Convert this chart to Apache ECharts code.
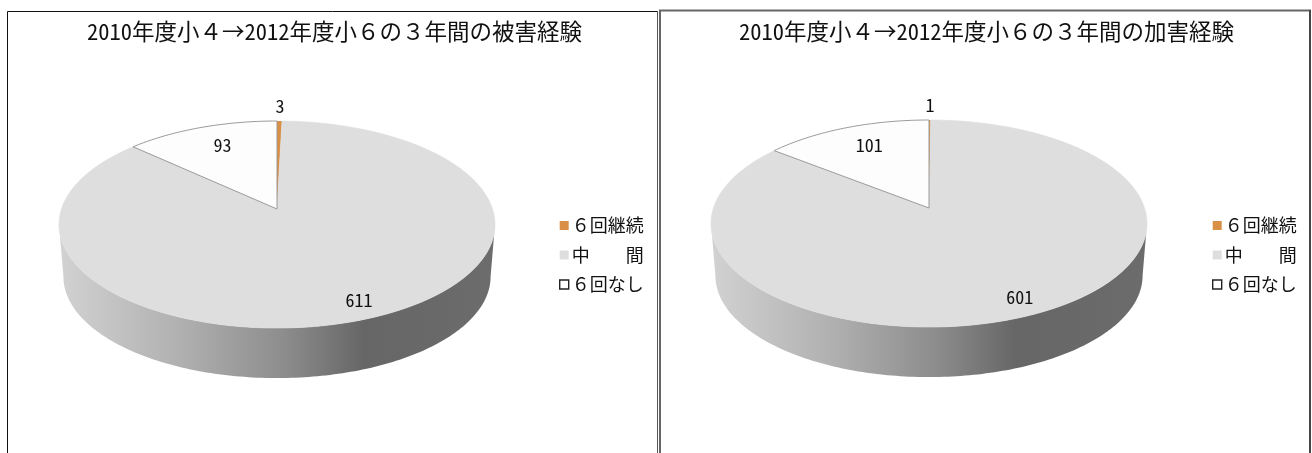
<!DOCTYPE html>
<html><head><meta charset="utf-8">
<style>html,body{margin:0;padding:0;background:#fff}#c{width:1312px;height:453px}</style>
<script src="https://cdn.jsdelivr.net/npm/echarts@6/dist/echarts.min.js"></script>
</head><body><div id="c"></div>
<script>
const categories = ['６回継続', '中　　間', '６回なし'];
const victimValues = [3, 611, 93];
const offenderValues = [1, 601, 101];
const victimTitle = '2010年度小４→2012年度小６の３年間の被害経験';
const offenderTitle = '2010年度小４→2012年度小６の３年間の加害経験';

const colors = ['#d98f45', '#dedede', '#fdfdfd'];
const FONT = '"Noto Sans Mono CJK JP","Noto Sans CJK JP",sans-serif';
const LEG_FONT = '"Noto Sans CJK JP",sans-serif';
const labelRadius = [1.2, 0.86, 0.76];
const labelNudgeX = [0, 0, 5];

// projective view of a tilted disc
const C = 215.5, A = 101.2, K = -0.15, BX = 0.98, BY = 52.4;
const panels = [
  { values: victimValues, cx: 277, cy: 209 },
  { values: offenderValues, cx: 929, cy: 208 }
];
const rad = d => d * Math.PI / 180;
function proj(p, deg, r) {
  const u = r * Math.sin(rad(deg)), v = -r * Math.cos(rad(deg)), d = 1 + K * v;
  return [C * u / d, A * v / d];
}
const FRONT = [Math.acos(K) * 180 / Math.PI, 360 - Math.acos(K) * 180 / Math.PI];
const wallFill = { type: 'linear', x: 0, y: 0, x2: 1, y2: 0, colorStops: [
  { offset: 0, color: '#d2d2d2' }, { offset: 0.28, color: '#b0b0b0' },
  { offset: 0.52, color: '#8c8c8c' }, { offset: 0.7, color: '#666666' },
  { offset: 1, color: '#6c6c6c' } ] };

function renderSlice(pIdx, cIdx) {
  const p = panels[pIdx];
  return function (params, api) {
    const val = api.value(0);
    const total = p.values.reduce((a, b) => a + b, 0);
    const before = p.values.slice(0, cIdx).reduce((a, b) => a + b, 0);
    const a0 = before / total * 360, a1 = (before + val) / total * 360;
    const children = [];
    // side wall for the part of this slice on the front of the disc
    const f0 = Math.max(a0, FRONT[0]), f1 = Math.min(a1, FRONT[1]);
    if (f1 > f0) {
      const top = [], bot = [];
      for (let t = f0; t < f1; t += 1) top.push(proj(p, t, 1));
      top.push(proj(p, f1, 1));
      top.forEach(q => bot.unshift([q[0] * BX, q[1] * BX + BY]));
      const pts = top.concat(bot).map(q => [p.cx + q[0], p.cy + q[1]]);
      children.push({ type: 'polygon', shape: { points: pts }, style: { fill: wallFill } });
    }
    // top face
    const face = [[p.cx, p.cy]];
    for (let t = a0; t < a1; t += 1) { const q = proj(p, t, 1); face.push([p.cx + q[0], p.cy + q[1]]); }
    const e = proj(p, a1, 1); face.push([p.cx + e[0], p.cy + e[1]]);
    children.push({ type: 'polygon', shape: { points: face }, style: {
      fill: colors[cIdx],
      stroke: cIdx === 2 ? '#9a9a9a' : (cIdx === 1 ? colors[1] : null),
      lineWidth: cIdx === 2 ? 1 : (cIdx === 1 ? 0.6 : 0) } });
    // value label
    const m = proj(p, (a0 + a1) / 2, labelRadius[cIdx]);
    children.push({ type: 'text', z2: 10, style: {
      x: p.cx + m[0] + labelNudgeX[cIdx], y: p.cy + m[1], text: String(val), fill: '#111',
      font: '18px ' + FONT, align: 'center', verticalAlign: 'middle' } });
    return { type: 'group', children };
  };
}

const series = [];
panels.forEach((p, pIdx) => categories.forEach((name, cIdx) => series.push({
  type: 'custom', coordinateSystem: 'none', name,
  itemStyle: { color: colors[cIdx] }, silent: true, animation: false,
  data: [[p.values[cIdx]]], renderItem: renderSlice(pIdx, cIdx)
})));

const legendData = categories.map((name, i) => i === 2
  ? { name, itemStyle: { color: '#fff', borderColor: '#222', borderWidth: 1.4 } }
  : { name, itemStyle: { color: colors[i], borderWidth: 0 } });
const legend = left => ({
  left, top: 214, orient: 'vertical', icon: 'rect', itemWidth: 9, itemHeight: 9, itemGap: 6.5,
  padding: 0, selectedMode: false, data: legendData,
  formatter: n => n, textStyle: { fontSize: 18, color: '#111', fontFamily: LEG_FONT, padding: [0, 0, 0, -2], lineHeight: 23 }
});
const title = (text, left) => ({
  text, left, top: 20, textAlign: 'center', padding: 0,
  textStyle: { fontSize: 22.5, fontWeight: 'normal', color: '#111', fontFamily: FONT }
});
const frame = (x, w, y, stroke, lw) => ({
  type: 'rect', silent: true, z: 0,
  shape: { x, y, width: w, height: 480 }, style: { fill: 'none', stroke, lineWidth: lw }
});

const chart = echarts.init(document.getElementById('c'), null, { renderer: 'canvas' });
chart.setOption({
  backgroundColor: '#fff', animation: false,
  title: [title(victimTitle, 334.5), title(offenderTitle, 986.5)],
  legend: [legend(559), legend(1212)],
  series,
  graphic: [frame(7.5, 650, 11.5, '#111', 1), frame(660, 650, 10.5, '#666', 2),
    { type: 'line', silent: true, shape: { x1: 1310, y1: 10, x2: 1310, y2: 453 }, style: { stroke: '#222', lineWidth: 1 } },
    { type: 'line', silent: true, shape: { x1: 657.5, y1: 11, x2: 657.5, y2: 453 }, style: { stroke: '#555', lineWidth: 1 } }]
});
</script></body></html>
